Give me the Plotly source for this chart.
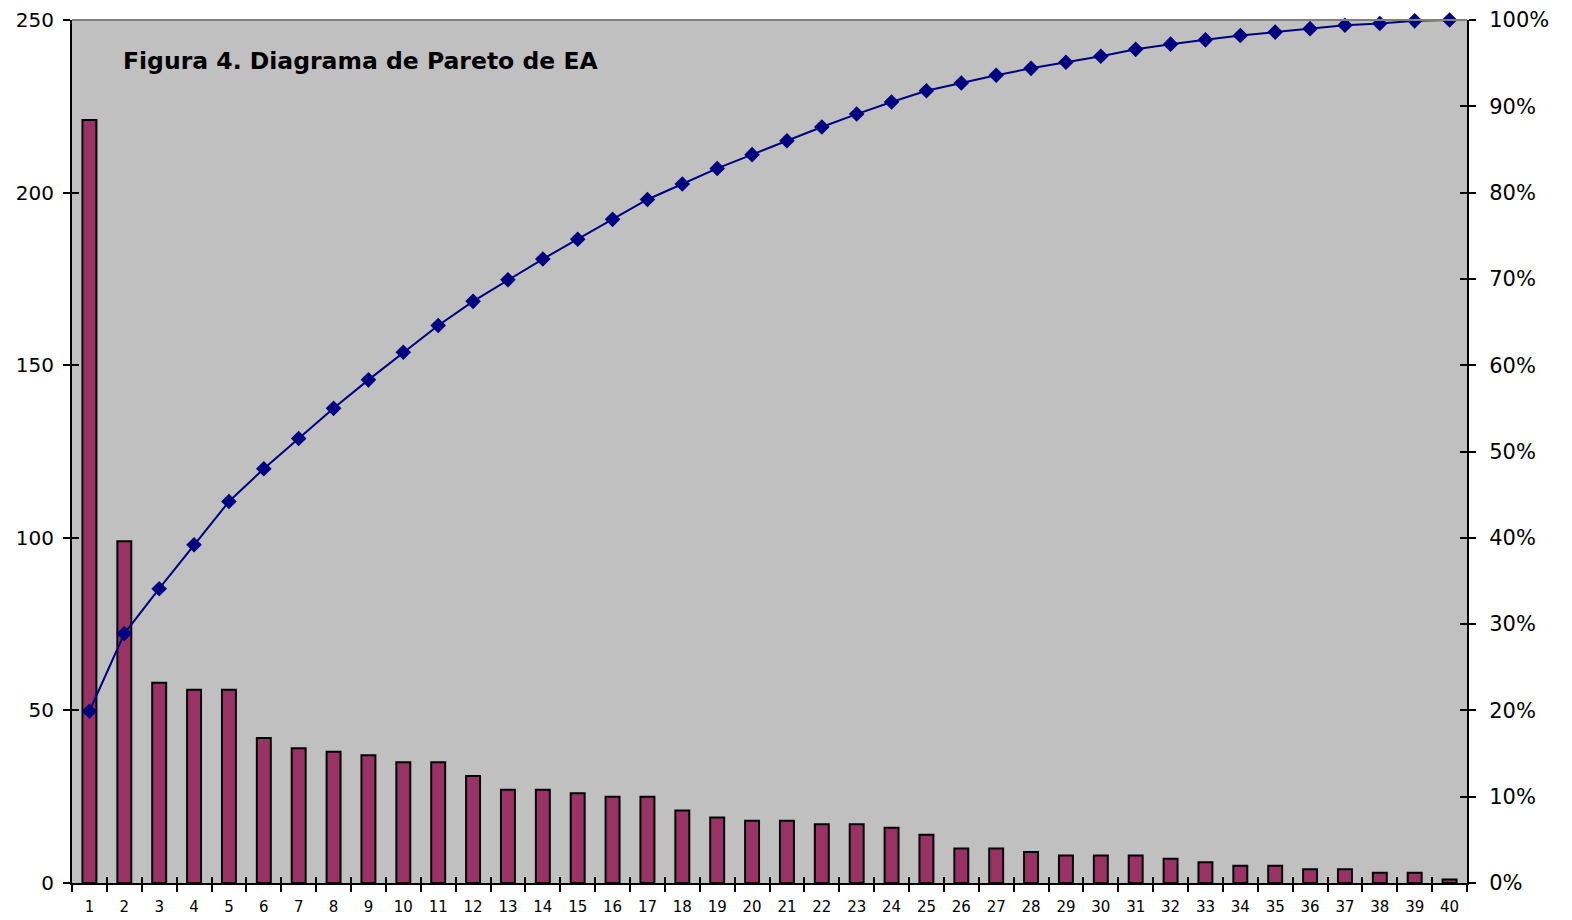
import plotly.graph_objects as go

categories = [str(i) for i in range(1, 41)]
counts = [221, 99, 58, 56, 56, 42, 39, 38, 37, 35, 35, 31, 27, 27, 26, 25, 25, 21, 19, 18,
          18, 17, 17, 16, 14, 10, 10, 9, 8, 8, 8, 7, 6, 5, 5, 4, 4, 3, 3, 1]
cumulative_pct = [19.9, 28.9, 34.1, 39.2, 44.2, 48.0, 51.5, 55.0, 58.3, 61.5,
                  64.6, 67.4, 69.9, 72.3, 74.6, 76.9, 79.2, 81.0, 82.8, 84.4,
                  86.0, 87.6, 89.1, 90.5, 91.8, 92.7, 93.6, 94.4, 95.1, 95.8,
                  96.6, 97.2, 97.7, 98.2, 98.6, 99.0, 99.4, 99.6, 99.9, 100.0]
left_ticks = [0, 50, 100, 150, 200, 250]
right_ticks = [0, 10, 20, 30, 40, 50, 60, 70, 80, 90, 100]
right_labels = [f"{v}%" for v in right_ticks]
title_text = "Figura 4. Diagrama de Pareto de EA"

FONT = "DejaVu Sans, Verdana, sans-serif"
n = len(categories)

fig = go.Figure()
fig.add_trace(go.Bar(
    x=categories, y=counts, width=0.4,
    marker=dict(color="#993366", line=dict(color="black", width=2)),
    xaxis="x", yaxis="y", showlegend=False,
))
fig.add_trace(go.Scatter(
    x=categories, y=cumulative_pct, xaxis="x", yaxis="y2", mode="lines+markers",
    line=dict(color="#000080", width=2),
    marker=dict(symbol="diamond", size=12, color="#000080"),
    showlegend=False, cliponaxis=False,
))

tick_common = dict(tickwidth=2, tickcolor="black", showgrid=False, zeroline=False,
                   automargin=False)

fig.update_layout(
    width=1572, height=920,
    margin=dict(l=72, r=105, t=20, b=37),
    paper_bgcolor="white", plot_bgcolor="#C0C0C0",
    font=dict(family=FONT, color="black"),
    xaxis=dict(
        type="category", categoryorder="array", categoryarray=categories,
        range=[-0.5, n - 0.5], autorange=False,
        tickson="boundaries", ticks="outside", ticklen=7, ticklabelstandoff=9,
        showline=True, linecolor="black", linewidth=2,
        tickfont=dict(size=15, family=FONT), **tick_common,
    ),
    xaxis2=dict(
        overlaying="x", range=[0.5, n + 0.5], tick0=0.5, dtick=1, ticks="inside",
        ticklen=6, showticklabels=False, showline=False, side="bottom", **tick_common,
    ),
    yaxis=dict(
        range=[0, 250], tickvals=left_ticks, ticks="outside", ticklen=7,
        showline=True, linecolor="black", linewidth=2, ticklabelstandoff=5,
        tickfont=dict(size=20, family=FONT), **tick_common,
    ),
    yaxis2=dict(
        range=[0, 100], tickvals=right_ticks, ticktext=right_labels,
        overlaying="y", side="right", ticks="outside", ticklen=7,
        showline=True, linecolor="black", linewidth=2, ticklabelstandoff=9,
        tickfont=dict(size=21, family=FONT), **tick_common,
    ),
    yaxis3=dict(
        overlaying="y", range=[0, 250], tickvals=left_ticks, ticks="inside", ticklen=7,
        showticklabels=False, showline=False, side="left", **tick_common,
    ),
    yaxis4=dict(
        overlaying="y", range=[0, 100], tickvals=right_ticks, ticks="inside", ticklen=7,
        showticklabels=False, showline=False, side="right", **tick_common,
    ),
    annotations=[dict(
        text="<b>" + title_text + "</b>", x=0.035, y=0.953, xref="paper", yref="paper",
        xanchor="left", yanchor="middle", showarrow=False,
        font=dict(size=23.5, family=FONT, color="black"),
    )],
    shapes=[dict(type="line", xref="paper", yref="paper", x0=0, x1=1, y0=1, y1=1,
                 line=dict(color="#808080", width=2))],
)

# invisible helper traces so overlay tick axes are drawn
fig.add_trace(go.Scatter(x=[1], y=[0], xaxis="x2", yaxis="y3", mode="markers",
                         marker=dict(opacity=0), showlegend=False, hoverinfo="skip"))
fig.add_trace(go.Scatter(x=[1], y=[0], xaxis="x2", yaxis="y4", mode="markers",
                         marker=dict(opacity=0), showlegend=False, hoverinfo="skip"))

fig.write_html("out.html")
